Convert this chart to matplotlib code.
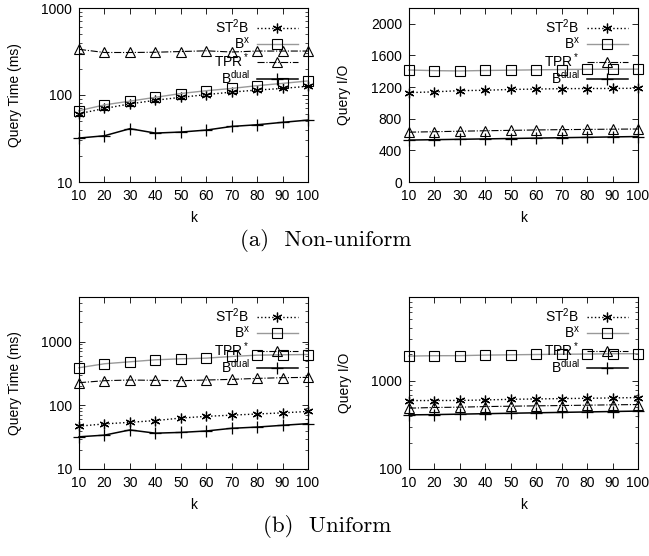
import matplotlib
matplotlib.use("Agg")
import matplotlib.pyplot as plt
from matplotlib.ticker import NullFormatter, LogLocator, FuncFormatter

plt.rcParams['font.family'] = ['Liberation Sans', 'DejaVu Sans']
plt.rcParams['mathtext.fontset'] = 'custom'
plt.rcParams['mathtext.rm'] = 'Liberation Sans'
plt.rcParams['mathtext.default'] = 'regular'
plt.rcParams['font.size'] = 10

k = [10, 20, 30, 40, 50, 60, 70, 80, 90, 100]
labels = ['ST$^2$B', 'B$^x$', 'TPR$^*$', 'B$^{dual}$']

# (a) non-uniform
time_a_st2b = [61, 70, 79, 87, 94, 101, 108, 114, 119, 126]
time_a_bx = [66, 77, 85, 94, 104, 112, 119, 128, 136, 145]
time_a_tpr = [335, 308, 308, 310, 316, 322, 312, 320, 320, 320]
time_a_bdual = [32, 34, 41, 36.5, 37.5, 39.5, 43.5, 45.5, 48.5, 51.5]

io_a_st2b = [1130, 1140, 1155, 1160, 1170, 1175, 1180, 1182, 1183, 1185]
io_a_bx = [1416, 1408, 1404, 1410, 1414, 1418, 1422, 1425, 1426, 1427]
io_a_tpr = [630, 636, 642, 648, 653, 658, 662, 665, 668, 670]
io_a_bdual = [530, 535, 540, 545, 550, 555, 560, 565, 570, 575]

# (b) uniform
time_b_st2b = [47, 51, 54, 57.5, 63, 67, 70, 73, 76, 80]
time_b_bx = [388, 448, 481, 517, 536, 549, 583, 611, 620, 626]
time_b_tpr = [226, 243, 249, 246, 243, 249, 255, 264, 271, 274]
time_b_bdual = [32, 34, 41, 36.5, 37.5, 39.5, 43.5, 45.5, 48.5, 51.5]

io_b_st2b = [599, 600, 601, 609, 619, 625, 631, 636, 642, 648]
io_b_bx = [1919, 1937, 1940, 1968, 1984, 2000, 2012, 2023, 2039, 2040]
io_b_tpr = [491, 500, 504, 512, 517, 522, 526, 531, 536, 540]
io_b_bdual = [412, 415, 420, 425, 430, 435, 440, 445, 450, 455]

styles = [
    dict(color='black', linestyle=':', linewidth=1.0, marker=(6, 2, 0), markersize=7, markeredgewidth=0.9),
    dict(color='#999999', linestyle='-', linewidth=1.0, marker='s', markersize=6.5, markerfacecolor='none',
         markeredgecolor='black', markeredgewidth=0.8),
    dict(color='black', linestyle='-.', linewidth=0.8, marker='^', markersize=6.5, markerfacecolor='none',
         markeredgecolor='black', markeredgewidth=0.8),
    dict(color='black', linestyle='-', linewidth=1.1, marker='+', markersize=8, markeredgewidth=0.9),
]

fig = plt.figure(figsize=(6.49, 5.56), dpi=100)

W = 229 / 649
H_top = 174 / 556
H_bot = 172 / 556
positions = [
    [79 / 649, 374 / 556, W, H_top],
    [409 / 649, 374 / 556, W, H_top],
    [79 / 649, 87 / 556, W, H_bot],
    [409 / 649, 87 / 556, W, H_bot],
]

panels = [
    ([time_a_st2b, time_a_bx, time_a_tpr, time_a_bdual], 'Query Time (ms)', 'log', (10, 1000), None),
    ([io_a_st2b, io_a_bx, io_a_tpr, io_a_bdual], 'Query I/O', 'linear', (0, 2200), [0, 400, 800, 1200, 1600, 2000]),
    ([time_b_st2b, time_b_bx, time_b_tpr, time_b_bdual], 'Query Time (ms)', 'log', (10, 5000), None),
    ([io_b_st2b, io_b_bx, io_b_tpr, io_b_bdual], 'Query I/O', 'log', (100, 9000), None),
]

for pos, (series, ylabel, scale, ylim, yticks) in zip(positions, panels):
    ax = fig.add_axes(pos)
    for vals, lab, st in zip(series, labels, styles):
        ax.plot(k, vals, label=lab, clip_on=False, **st)
    ax.set_yscale(scale)
    ax.set_xlim(10, 100)
    ax.set_ylim(*ylim)
    ax.set_xticks(k)
    if yticks is not None:
        ax.set_yticks(yticks)
    else:
        ax.yaxis.set_major_locator(LogLocator(base=10, numticks=10))
        ax.yaxis.set_minor_locator(LogLocator(base=10, subs=range(2, 10), numticks=20))
        ax.yaxis.set_minor_formatter(NullFormatter())
        ax.yaxis.set_major_formatter(FuncFormatter(lambda v, p: '%d' % v))
    ax.tick_params(direction='in', top=True, right=True, length=4, width=0.6, labelsize=10, pad=5)
    ax.tick_params(which='minor', direction='in', left=True, right=True, length=2, width=0.5)
    for s in ax.spines.values():
        s.set_linewidth(0.8)
    ax.set_xlabel('k', fontsize=10, labelpad=6)
    ax.set_ylabel(ylabel, fontsize=10, labelpad=14)
    ax.legend(loc='upper right', frameon=False, markerfirst=False, fontsize=10,
              handlelength=3.0, handletextpad=0.5, labelspacing=-0.05, borderaxespad=0.3)

fig.text(0.502, 1 - 240 / 556, '(a)  Non-uniform', ha='center', va='center', family='cmr10', fontsize=16.5)
fig.text(0.504, 1 - 527 / 556, '(b)  Uniform', ha='center', va='center', family='cmr10', fontsize=16.5)

fig.savefig('out.png', dpi=100)
